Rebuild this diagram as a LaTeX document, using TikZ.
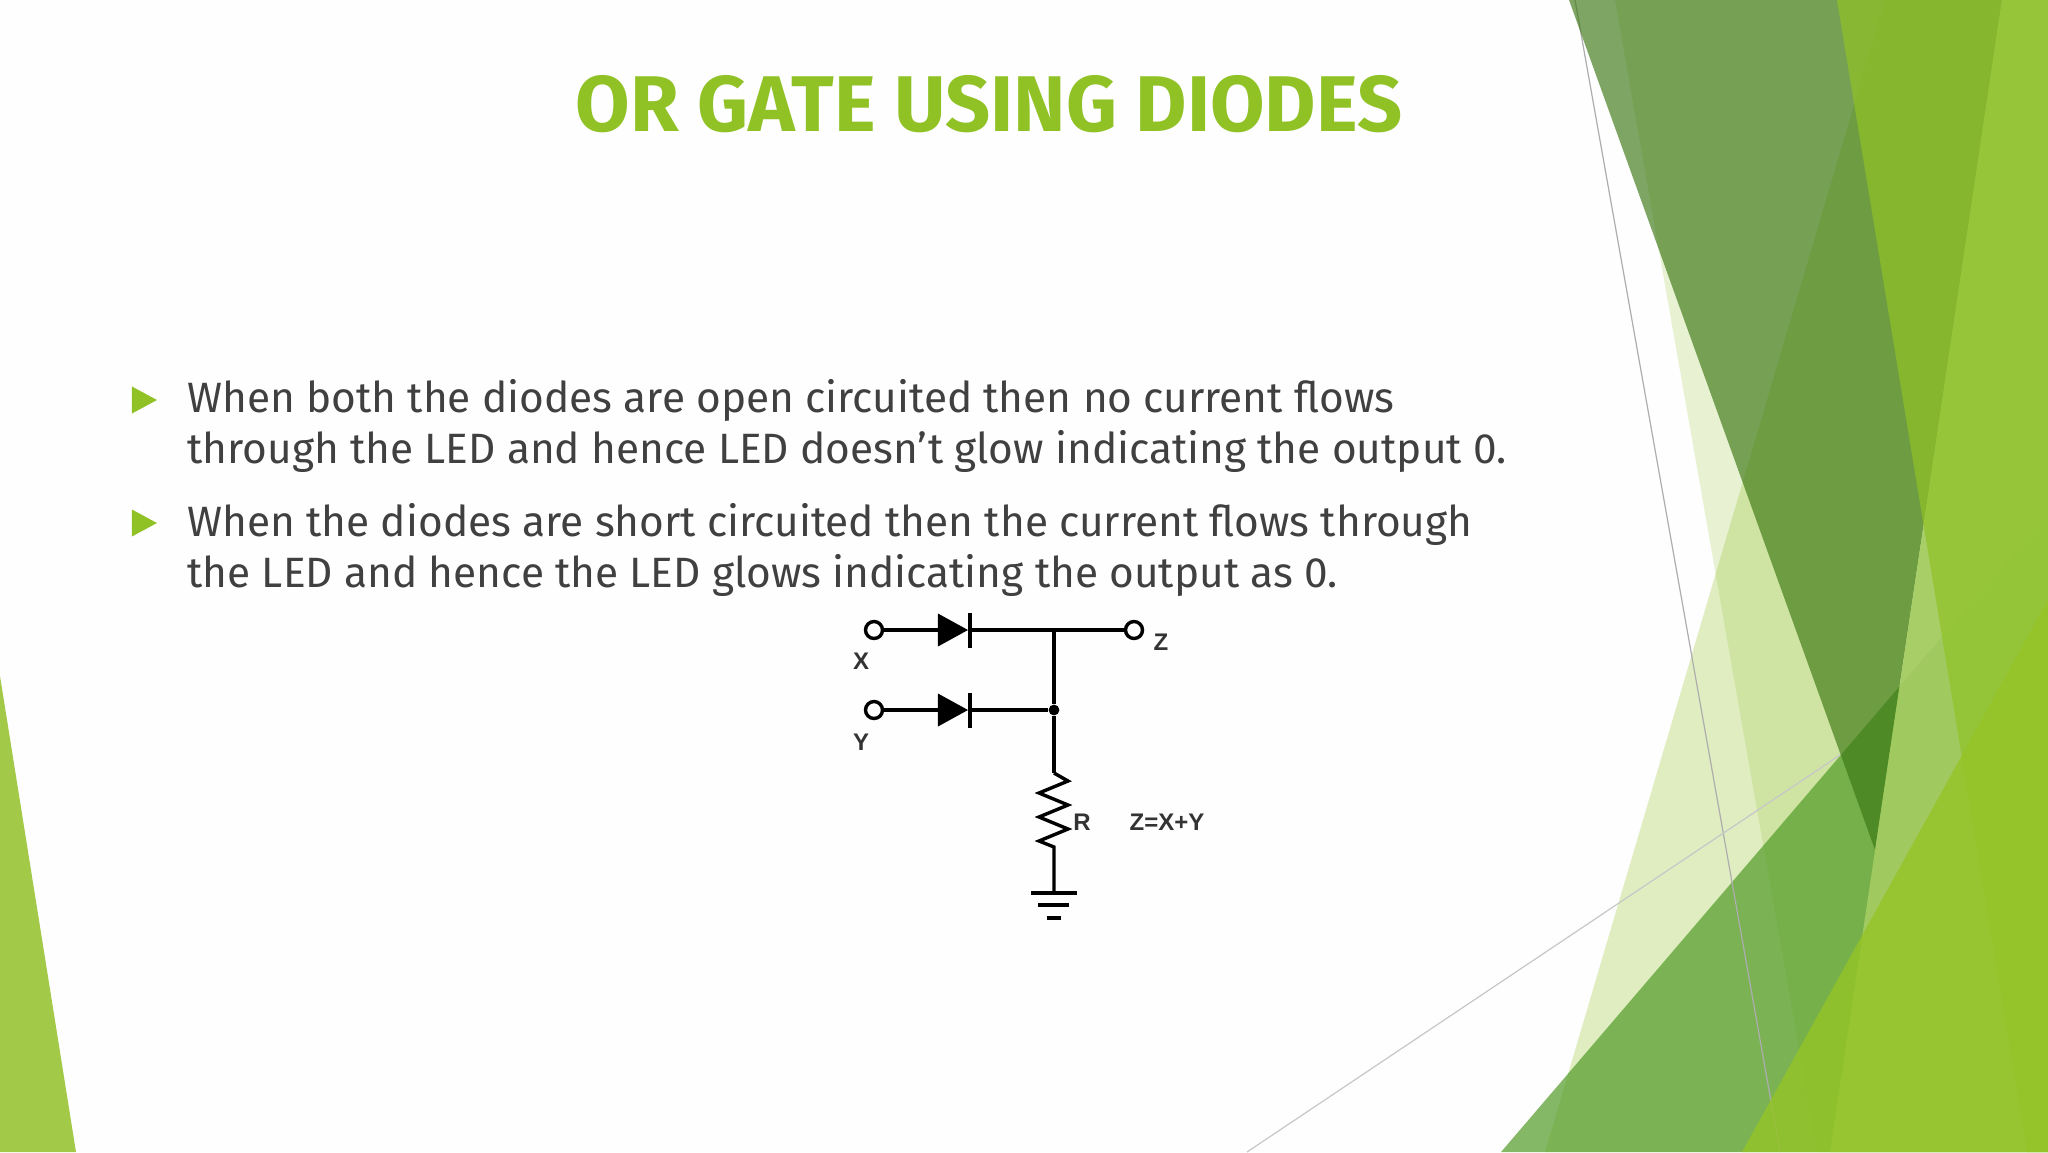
\documentclass[tikz,border=0pt]{standalone}
\usepackage{fontspec}
\setmainfont{Fira Sans}
\newfontfamily\circfont{Liberation Sans}
\usetikzlibrary{positioning,shapes.geometric,calc}
\definecolor{titlegreen}{HTML}{90C226}
\definecolor{bodygrey}{HTML}{404040}
\definecolor{facetlime}{HTML}{90C226}
\definecolor{facetpale}{HTML}{A4CD62}
\definecolor{facetmoss}{HTML}{519B27}
\definecolor{facetdark}{HTML}{3A7611}
\definecolor{facetbright}{HTML}{94C426}
\definecolor{facetleft}{HTML}{A2C948}
\begin{document}
\begin{tikzpicture}[
x=0.5pt,y=-0.5pt,
facet/.style={
  draw=none,
  fill=#1
  },
hairline/.style={
  line width=0.6pt,
  color=#1
  },
wire/.style={
  line width=1.7pt,
  line join=miter
  },
terminal/.style={
  draw,
  circle,
  fill=white,
  line width=1.7pt,
  minimum size=8.5pt,
  inner sep=0pt
  },
diode/.style={
  isosceles triangle,
  isosceles triangle stretches,
  fill=black,
  minimum height=15pt,
  minimum width=16.5pt,
  inner sep=0pt,
  anchor=apex
  },
junction/.style={
  circle,
  fill=black,
  minimum size=5.4pt,
  inner sep=0pt
  },
circlabel/.style={
  font=\circfont\bfseries\fontsize{12}{14}\selectfont,
  text=black!80,
  inner sep=0pt
  },
titlestyle/.style={
  font=\fontsize{39.5}{46}\selectfont\bfseries,
  text=titlegreen,
  inner sep=0pt,
  anchor=base
  },
bodystyle/.style={
  font=\fontsize{21.2}{25.5}\selectfont,
  text=bodygrey,
  align=left,
  inner sep=0pt,
  anchor=base west
  },
bulletmark/.style={
  isosceles triangle,
  isosceles triangle stretches,
  fill=titlegreen,
  minimum height=12.5pt,
  minimum width=13.5pt,
  inner sep=0pt
  }
]
\useasboundingbox (0,0) rectangle (2048,1152);
\fill[white!99.5!black] (0,0) rectangle (2048,1152);

% left corner
\fill[facet=facetleft] (0,676) -- (76,1152) -- (0,1152) -- cycle;

% right side facets
\fill[facet=facetlime,opacity=0.2] (1615,0) -- (1817,1152) -- (2048,1152) -- (2048,0) -- cycle;
\fill[facet=facetlime,opacity=0.28] (1885,0) -- (1545,1152) -- (2048,1152) -- (2048,0) -- cycle;
\fill[facet=facetmoss,opacity=0.7] (1501,1152) -- (2048,513) -- (2048,1152) -- cycle;
\draw[hairline={black!32}] (1575,0) -- (1780,1152);
\draw[hairline={black!22}] (1840,755) -- (1247,1152);
\fill[facet=facetdark,opacity=0.65] (1569,0) -- (1875,850) -- (2002,0) -- cycle;
\fill[facet=facetpale,opacity=0.92] (2002,0) -- (1830,1152) -- (2048,1152) -- (2048,0) -- cycle;
\fill[facet=facetlime,opacity=0.7] (1837,0) -- (2027,1152) -- (2048,1152) -- (2048,0) -- cycle;
\fill[facet=facetbright,opacity=0.8] (1742,1152) -- (2048,600) -- (2048,1152) -- cycle;

% slide text
\node[titlestyle] (title) at (989,131) {OR GATE USING DIODES};
\node[bulletmark] (bulletone) at (140,400) {};
\node[bulletmark] (bullettwo) at (140,523) {};
\node[bodystyle] (bodyone) at (187,463) {When both the diodes are open circuited then no current flows\\through the LED and hence LED doesn’t glow indicating the output 0.};
\node[bodystyle] (bodytwo) at (187,587) {When the diodes are short circuited then the current flows through\\the LED and hence the LED glows indicating the output as 0.};

% circuit
\node[terminal] (xin) at (874,630) {};
\node[terminal] (yin) at (874,710) {};
\node[terminal] (zout) at (1134,630) {};
\node[diode] (dx) at (969,630) {};
\node[diode] (dy) at (969,710) {};
\coordinate (topnode) at (1054,630);
\node[junction] (midnode) at (1054,710) {};
\coordinate (rtop) at (1054,773);
\coordinate (rbot) at (1054,847);
\coordinate (gnd) at (1054,893);

\draw[wire] (xin) -- (dx.lower side);
\draw[wire] (dx.apex) -- (topnode) -- (zout);
\draw[wire] (yin) -- (dy.lower side);
\draw[wire] (dy.apex) -- (midnode);
\draw[wire] (topnode) -- (midnode) -- (rtop);
\draw[wire] (rtop) -- ++(14,8) -- ++(-29,12) -- ++(29,12) -- ++(-29,12) -- ++(29,12) -- ++(-29,12) -- (rbot) -- (gnd);
\draw[wire] (dx.apex)+(1,-17) -- +(1,18);
\draw[wire] (dy.apex)+(1,-17) -- +(1,18);
\draw[wire] (gnd)+(-23,0) -- +(23,0);
\draw[wire] (gnd)+(-16,12) -- +(15,12);
\draw[wire,line width=2.2pt] (gnd)+(-7,25) -- +(7,25);

\node[circlabel] (xlabel) at (861,661) {X};
\node[circlabel] (ylabel) at (861,742) {Y};
\node[circlabel] (zlabel) at (1161,642) {Z};
\node[circlabel] (rlabel) at (1082,822) {R};
\node[circlabel] (eqlabel) at (1167,822) {Z=X+Y};
\end{tikzpicture}
\end{document}
